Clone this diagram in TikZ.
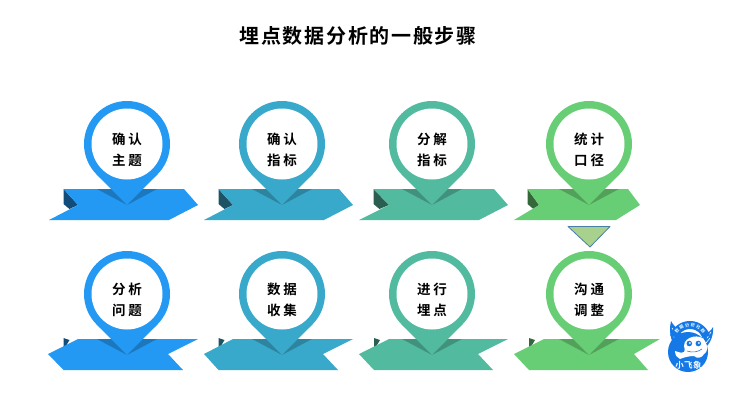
\documentclass[tikz,border=0pt]{standalone}
\usepackage{fontspec}
\setmainfont{Noto Sans CJK SC}[BoldFont={Noto Sans CJK SC Bold}]
\definecolor{cblue}{HTML}{2399F4}
\definecolor{cteal}{HTML}{39A9CB}
\definecolor{cmint}{HTML}{52BB9F}
\definecolor{cgreen}{HTML}{68CE75}
\definecolor{logoblue}{HTML}{1478E6}
\definecolor{trifill}{HTML}{A9D18E}
\definecolor{triline}{HTML}{4A7EA8}
\tikzset{
  pinlabel/.style={align=center,font=\bfseries\fontsize{13.5}{21}\selectfont,text=black,inner sep=0pt},
  headline/.style={font=\bfseries\fontsize{20}{24}\selectfont,text=black,inner sep=0pt},
  logotext/.style={font=\bfseries\fontsize{8.5}{10}\selectfont,text=white,inner sep=0pt},
  logotiny/.style={font=\bfseries\fontsize{4.2}{5}\selectfont,text=white,inner sep=0pt},
  wingline/.style={draw=white,line width=0.6pt,line cap=round},
}
% Location pin: shadow on the ribbon, point, ring and a two-line caption
\newcommand{\locpin}[5]{%
  \fill[#2!78!black] (#3-30,#4+45) -- (#3,#4+61) -- (#3+30,#4+45) -- cycle;
  \fill[#2] (#3-30.5,#4+30.3) -- (#3,#4+61) -- (#3+30.5,#4+30.3) -- cycle;
  \fill[#2] (#3,#4) circle[radius=43];
  \fill[white] (#3,#4) circle[radius=35.5];
  \node[pinlabel] (#1) at (#3,#4+5.5) {#5};
}
% Ribbons of the upper row, with the dark fold behind the notch
\newcommand{\upperband}[7]{%
  \fill[#1!50!black] (#2,189) -- (#3,205) -- (#2+6,209) -- (#2,204) -- cycle;
  \fill[#1] (#2,189) -- (#4,189) -- (#5,205) -- (#6,220) -- (#7,220) -- (#3,205) -- cycle;
}
% Ribbons of the lower row
\newcommand{\lowerband}[7]{%
  \fill[#1!50!black] (#2,338) -- (#2+6,340) -- (#2,350) -- cycle;
  \fill[#1] (#3,339) -- (#4,339) -- (#5,354) -- (#6,370) -- (#2,370) -- (#7,354) -- cycle;
}
\newcommand{\gp}{\hspace{3pt}}
\newcommand{\tg}{\hspace{1.7pt}}
\begin{document}
\begin{tikzpicture}[x=1pt,y=-1pt]
\useasboundingbox (0,0) rectangle (732,400);

\node[headline] (title) at (358,36) {埋\tg 点\tg 数\tg 据\tg 分\tg 析\tg 的\tg 一\tg 般\tg 步\tg 骤};

% upper row
\upperband{cblue}{63.5}{78}{184}{198}{169}{49}
\upperband{cteal}{218.5}{233}{339}{353}{324}{204}
\upperband{cmint}{373.5}{389}{494}{508}{479}{359}
\upperband{cgreen}{527.5}{539}{628}{640}{616}{514}
\locpin{a1}{cblue}{127}{144}{确\gp 认\\主\gp 题}
\locpin{a2}{cteal}{282}{144}{确\gp 认\\指\gp 标}
\locpin{a3}{cmint}{432}{144}{分\gp 解\\指\gp 标}
\locpin{a4}{cgreen}{589}{144}{统\gp 计\\口\gp 径}

% lower row
\lowerband{cblue}{63.5}{78}{198}{168}{183}{48}
\lowerband{cteal}{218.5}{233}{353}{323}{338}{204}
\lowerband{cmint}{374}{389}{508}{478}{493}{359}
\lowerband{cgreen}{529}{544}{660}{634}{648}{514}
\locpin{b1}{cblue}{127}{294}{分\gp 析\\问\gp 题}
\locpin{b2}{cteal}{282}{294}{数\gp 据\\收\gp 集}
\locpin{b3}{cmint}{432}{294}{进\gp 行\\埋\gp 点}
\locpin{b4}{cgreen}{589}{294}{沟\gp 通\\调\gp 整}

% down-pointing triangle between the last two pins
\draw[fill=trifill,draw=triline,line width=0.8pt,line join=round]
  (568,226.5) -- (610,226.5) -- (590,247) -- cycle;

% round badge: wings
\fill[logoblue] (671,321) .. controls (673,325) and (677,329) .. (681,331)
  -- (680,350) .. controls (672,346) and (668,334) .. (671,321) -- cycle;
\fill[logoblue] (713,327) .. controls (711,331) and (708,333) .. (704,334)
  -- (702,350) .. controls (708,347) and (714,338) .. (713,327) -- cycle;
\draw[wingline] (672,328) -- (678,336);
\draw[wingline] (672,334) -- (676,340);
\draw[wingline] (711,332) -- (707,338);
\draw[wingline] (710,338) -- (706,343);
% badge disc and the arched band over it
\fill[logoblue] (688,352) circle[radius=20];
\draw[logoblue,line width=8pt] plot[domain=-72:72,samples=30]
  ({690+17*sin(\x)},{342-17*cos(\x)});
% elephant head, ear and trunk
\fill[white] (684,346) .. controls (684,336) and (701,333) .. (705,341)
  .. controls (708,346) and (708,352) .. (704,354)
  .. controls (702,358) and (697,359) .. (694,356)
  .. controls (690,356) and (685,357) .. (680,359)
  .. controls (677,358) and (675,355) .. (675,351)
  .. controls (678,351) and (680,354) .. (684,352)
  .. controls (686,351) and (684,349) .. (684,346) -- cycle;
\fill[logoblue] (689.3,343.5) circle[radius=2.8];
\fill[logoblue] (698.3,343.5) circle[radius=2.8];
\fill[white] (689.8,343) circle[radius=1];
\fill[white] (698.8,343) circle[radius=1];
\draw[logoblue,line width=0.6pt] (687,351) .. controls (692,353) and (698,352) .. (702,349);
% badge lettering
\foreach \a/\c in {-50/数,-30/据,-10/分,10/析,30/社,50/群}
  \node[logotiny,rotate=-\a,name=tiny\a] at ({690+17*sin(\a)},{342-17*cos(\a)}) {\c};
\node[logotext] (badge) at (688.5,365.5) {小\hspace{0.5pt}飞\hspace{0.5pt}象};
\end{tikzpicture}
\end{document}
